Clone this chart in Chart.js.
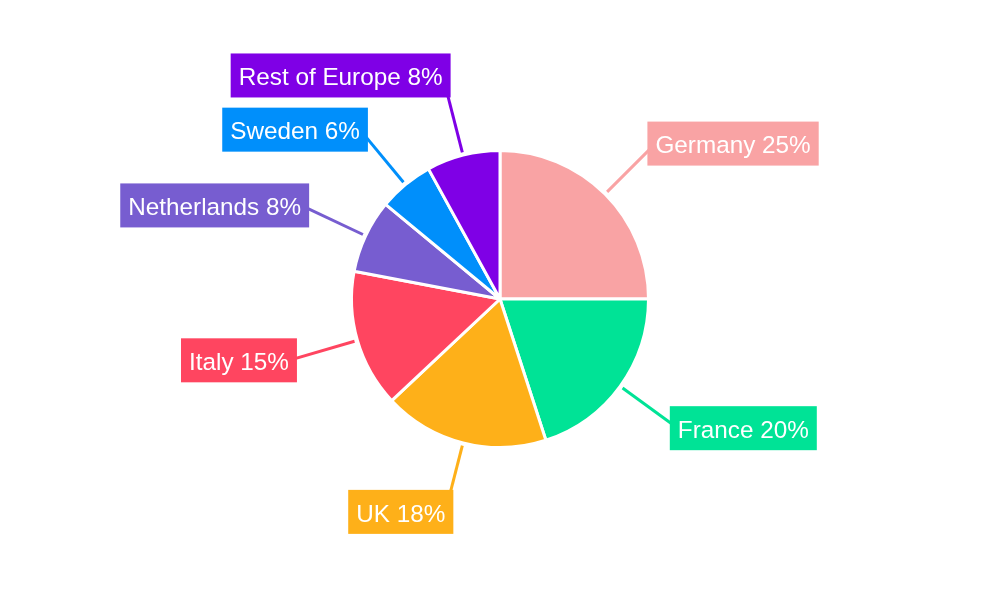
<html>
<head>
<title>Europe share</title>
<style>
  body { margin: 0; background: #fff; }
</style>
</head>
<body>
<script src="https://cdn.jsdelivr.net/npm/chart.js@4/dist/chart.umd.min.js"></script>

<canvas id="myChart" width="1000" height="600"></canvas>

<script type="text/javascript">
var countries = ["Germany", "France", "UK", "Italy", "Netherlands", "Sweden", "Rest of Europe"];
var shares = [25, 20, 18, 15, 8, 6, 8];
var colors = ["#f9a3a4", "#00e396", "#feb019", "#ff4560", "#775dd0", "#008ffb", "#7f00e6"];

var BOX_H = 44, GAP = 10;

// draws the coloured label boxes with leader lines
var calloutPlugin = {
  id: "callouts",
  afterDatasetsDraw: function(chart) {
    var ctx = chart.ctx;
    var arcs = chart.getDatasetMeta(0).data;
    var placed = [];
    for (var i = 0; i < arcs.length; i++) {
      var a = arcs[i];
      var mid = (a.startAngle + a.endAngle) / 2;
      var dx = Math.cos(mid), dy = Math.sin(mid);
      var rr = a.outerRadius * 1.48;
      // push outward along the ray if it collides with the previous label on same side
      for (var j = 0; j < placed.length; j++) {
        var p = placed[j];
        if ((p.dx >= 0) !== (dx >= 0)) continue;
        while (Math.abs(a.y + dy * rr - p.ay) < BOX_H + GAP) rr += 1;
      }
      placed.push({i: i, dx: dx, dy: dy, rr: rr, ay: a.y + dy * rr, ax: a.x + dx * rr, a: a});
    }
    ctx.save();
    ctx.font = "24.3px 'Liberation Sans', Arial, sans-serif";
    ctx.textBaseline = "middle";
    placed.forEach(function(p) {
      var a = p.a, r = a.outerRadius;
      ctx.strokeStyle = colors[p.i];
      ctx.lineWidth = 3;
      ctx.beginPath();
      ctx.moveTo(a.x + p.dx * (r + 3), a.y + p.dy * (r + 3));
      ctx.lineTo(p.ax, p.ay);
      ctx.stroke();
      var txt = countries[p.i] + " " + shares[p.i] + "%";
      var w = ctx.measureText(txt).width;
      var left = p.dx >= 0 ? p.ax : p.ax - w;
      ctx.fillStyle = colors[p.i];
      ctx.fillRect(left - 8, p.ay - BOX_H / 2, w + 16, BOX_H);
      ctx.fillStyle = "#ffffff";
      ctx.textAlign = "left";
      ctx.fillText(txt, left, p.ay + 3);
    });
    ctx.restore();
  }
};

var ctx = document.getElementById("myChart").getContext("2d");
var myPie = new Chart(ctx, {
  type: "pie",
  data: {
    labels: countries,
    datasets: [{
      data: shares,
      backgroundColor: colors,
      borderColor: "#ffffff",
      borderWidth: 3
    }]
  },
  options: {
    responsive: false,
    animation: false,
    layout: { padding: { top: 149, bottom: 151, left: 0, right: 0 } },
    plugins: {
      legend: { display: false },
      tooltip: { enabled: false }
    }
  },
  plugins: [calloutPlugin]
});
</script>
</body>
</html>
